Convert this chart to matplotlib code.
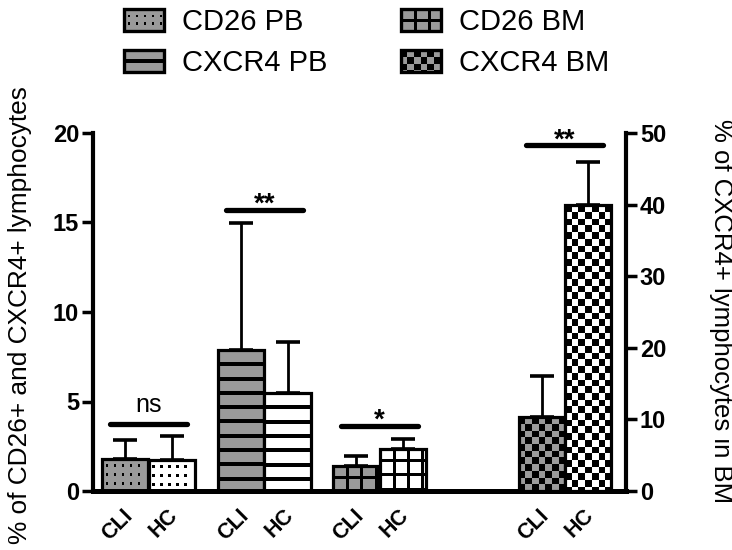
import math
import matplotlib
matplotlib.use("Agg")
import matplotlib.pyplot as plt
from matplotlib.patches import Rectangle
from matplotlib.legend_handler import HandlerBase
import matplotlib.transforms as mtransforms

plt.rcParams['font.family'] = ['Liberation Sans', 'DejaVu Sans']

# ---------------- data ----------------
groups = ['CD26 PB', 'CXCR4 PB', 'CD26 BM', 'CXCR4 BM']
subjects = ['CLI', 'HC']
cli_mean = [1.79, 7.88, 1.40, 10.3]
cli_err = [1.06, 7.09, 0.56, 5.8]
hc_mean = [1.73, 5.47, 2.35, 39.9]
hc_err = [1.34, 2.85, 0.55, 6.1]
sig_text = ['ns', '**', '*', '**']
sig_y = [3.74, 15.7, 3.63, 48.3]
left_ticks = [0, 5, 10, 15, 20]
right_ticks = [0, 10, 20, 30, 40, 50]
left_label = '% of CD26+ and CXCR4+ lymphocytes'
right_label = '% of CXCR4+ lymphocytes in BM'

# ---------------- style / layout ----------------
patterns = ['dots', 'stripes', 'grid', 'checker']
on_right = [False, False, False, True]
group_x = [1.175, 3.64, 6.09, 10.03]
bar_off = 0.495
bar_w = 0.98
GRAY = '#9a9a9a'
DPI = 100


def pattern_rects(kind, W, H, legend=False):
    """Pattern elements in local pixel coords: (x, y_from_top, w, h)."""
    r = []
    if kind == 'dots':
        dx, dy, s = 8.0, 9.0, 2.2
        y = 6.5 if not legend else H / 3
        step_y = dy if not legend else H / 3
        while y < H - 2.5:
            x = 5.0
            while x < W - 2.5:
                r.append((x - s / 2, y - s / 2, s, s))
                x += dx
            y += step_y
    elif kind == 'stripes':
        t = 4.0
        period = 14.3 if not legend else H / 2
        y = period
        while y < H - 1:
            r.append((0, y - t / 2, W, t))
            y += period
    elif kind == 'grid':
        t = 3.0
        period = 14.3
        y = 11.5
        while y < H - 1:
            r.append((0, y - t / 2, W, t))
            y += period
        x = 14.5
        while x < W - 1:
            r.append((x - t / 2, 0, t, H))
            x += period
    elif kind == 'checker':
        s = 6.7
        rows = int(math.ceil(H / s))
        cols = int(math.ceil(W / s))
        for i in range(rows):
            for j in range(cols):
                if (i + j) % 2 == 0:
                    x0, y0 = j * s, i * s
                    w = min(s, W - x0)
                    h = min(s, H - y0)
                    if w > 0 and h > 0:
                        r.append((x0, y0, w, h))
    return r


class PatternHandler(HandlerBase):
    def __init__(self, kind):
        super().__init__()
        self.kind = kind

    def create_artists(self, legend, orig_handle, xdescent, ydescent,
                       width, height, fontsize, trans):
        f = 72.0 / DPI
        x0, y0 = -xdescent, -ydescent
        arts = [Rectangle((x0, y0), width, height, facecolor=GRAY,
                          edgecolor='none', transform=trans)]
        for (lx, ly, w, h) in pattern_rects(self.kind, width / f, height / f, legend=True):
            arts.append(Rectangle((x0 + lx * f, y0 + height - (ly + h) * f), w * f, h * f,
                                  facecolor='black', edgecolor='none', lw=0, transform=trans))
        arts.append(Rectangle((x0, y0), width, height, facecolor='none',
                              edgecolor='black', lw=2.4, transform=trans))
        return arts


fig = plt.figure(figsize=(7.32, 5.5), dpi=DPI)
ax = fig.add_axes([93 / 732, 59 / 550, 533 / 732, 358 / 550])
ax2 = ax.twinx()

all_bars = []
for i, g in enumerate(groups):
    tax = ax2 if on_right[i] else ax
    xc = group_x[i] - bar_off
    xh = group_x[i] + bar_off
    b1 = tax.bar(xc, cli_mean[i], bar_w, color=GRAY, edgecolor='black', lw=2.3, zorder=2)
    b2 = tax.bar(xh, hc_mean[i], bar_w, color='white', edgecolor='black', lw=2.3, zorder=2)
    all_bars.append((tax, b1[0], patterns[i]))
    all_bars.append((tax, b2[0], patterns[i]))
    tax.errorbar([xc, xh], [cli_mean[i], hc_mean[i]],
                 yerr=[[0, 0], [cli_err[i], hc_err[i]]], fmt='none', ecolor='black',
                 elinewidth=2.0, capsize=8.5, capthick=2.6, zorder=1)
    tax.plot([group_x[i] - 0.82, group_x[i] + 0.82], [sig_y[i], sig_y[i]], color='black',
             lw=3.8, solid_capstyle='round', zorder=3)
    if sig_text[i] == 'ns':
        tax.annotate(sig_text[i], (group_x[i], sig_y[i]), xytext=(0, 8.5),
                     textcoords='offset points', ha='center', va='baseline', fontsize=18)
    else:
        tax.annotate(sig_text[i], (group_x[i], sig_y[i]), xytext=(0, -1.5),
                     textcoords='offset points', ha='center', va='baseline',
                     fontsize=20, fontweight='bold')

ax.set_xlim(0, 11.33)
ax.set_ylim(0, 20)
ax2.set_ylim(0, 50)

# fill patterns, clipped to each bar (in pixel space)
for tax, bar, kind in all_bars:
    bb = bar.get_window_extent()
    W, H = bb.width, bb.height
    for (lx, ly, w, h) in pattern_rects(kind, W, H):
        p = Rectangle((bb.x0 + lx, bb.y1 - ly - h), w, h, facecolor='black', edgecolor='none',
                      lw=0, transform=mtransforms.IdentityTransform(), zorder=2.5)
        p.set_clip_path(bar)
        tax.add_artist(p)

# spines
ax.spines['top'].set_visible(False)
ax.spines['right'].set_visible(False)
for s in ['top', 'left', 'bottom']:
    ax2.spines[s].set_visible(False)
ax.spines['left'].set_linewidth(3.0)
ax.spines['bottom'].set_linewidth(3.6)
ax2.spines['right'].set_linewidth(3.0)

# ticks
ax.set_yticks(left_ticks)
ax.set_yticklabels([str(t) for t in left_ticks], fontweight='bold')
ax.tick_params(axis='y', length=8, width=2.5, labelsize=17, pad=2, direction='out')
ax2.set_yticks(right_ticks)
ax2.set_yticklabels([str(t) for t in right_ticks], fontweight='bold')
ax2.tick_params(axis='y', length=8, width=2.5, labelsize=17, pad=2, direction='out')

xpos = []
xlab = []
for gx in group_x:
    xpos += [gx - bar_off, gx + bar_off]
    xlab += subjects
ax.set_xticks(xpos)
ax.set_xticklabels(xlab, rotation=45, fontweight='bold', fontsize=15.5)
ax.tick_params(axis='x', length=0, pad=10)
shift = mtransforms.ScaledTranslation(-8 / DPI, 0, fig.dpi_scale_trans)
for lbl in ax.get_xticklabels():
    lbl.set_transform(lbl.get_transform() + shift)

# axis titles
fig.text(20 / 732, 1 - 315 / 550, left_label, rotation=90, ha='center', va='center', fontsize=18.9)
fig.text(721 / 732, 1 - 311 / 550, right_label, rotation=270, ha='center', va='center', fontsize=18.5)

# legend
proxies = [Rectangle((0, 0), 1, 1) for _ in groups]
hmap = {p: PatternHandler(k) for p, k in zip(proxies, patterns)}
fig.legend(proxies, groups, handler_map=hmap, ncol=2, loc='upper left',
           bbox_to_anchor=(124 / 732, 1 - 8 / 550), frameon=False, fontsize=21,
           handlelength=1.38, handleheight=0.76, handletextpad=0.62,
           columnspacing=2.5, labelspacing=0.45, borderpad=0, borderaxespad=0)

fig.savefig('out.png', dpi=DPI)
